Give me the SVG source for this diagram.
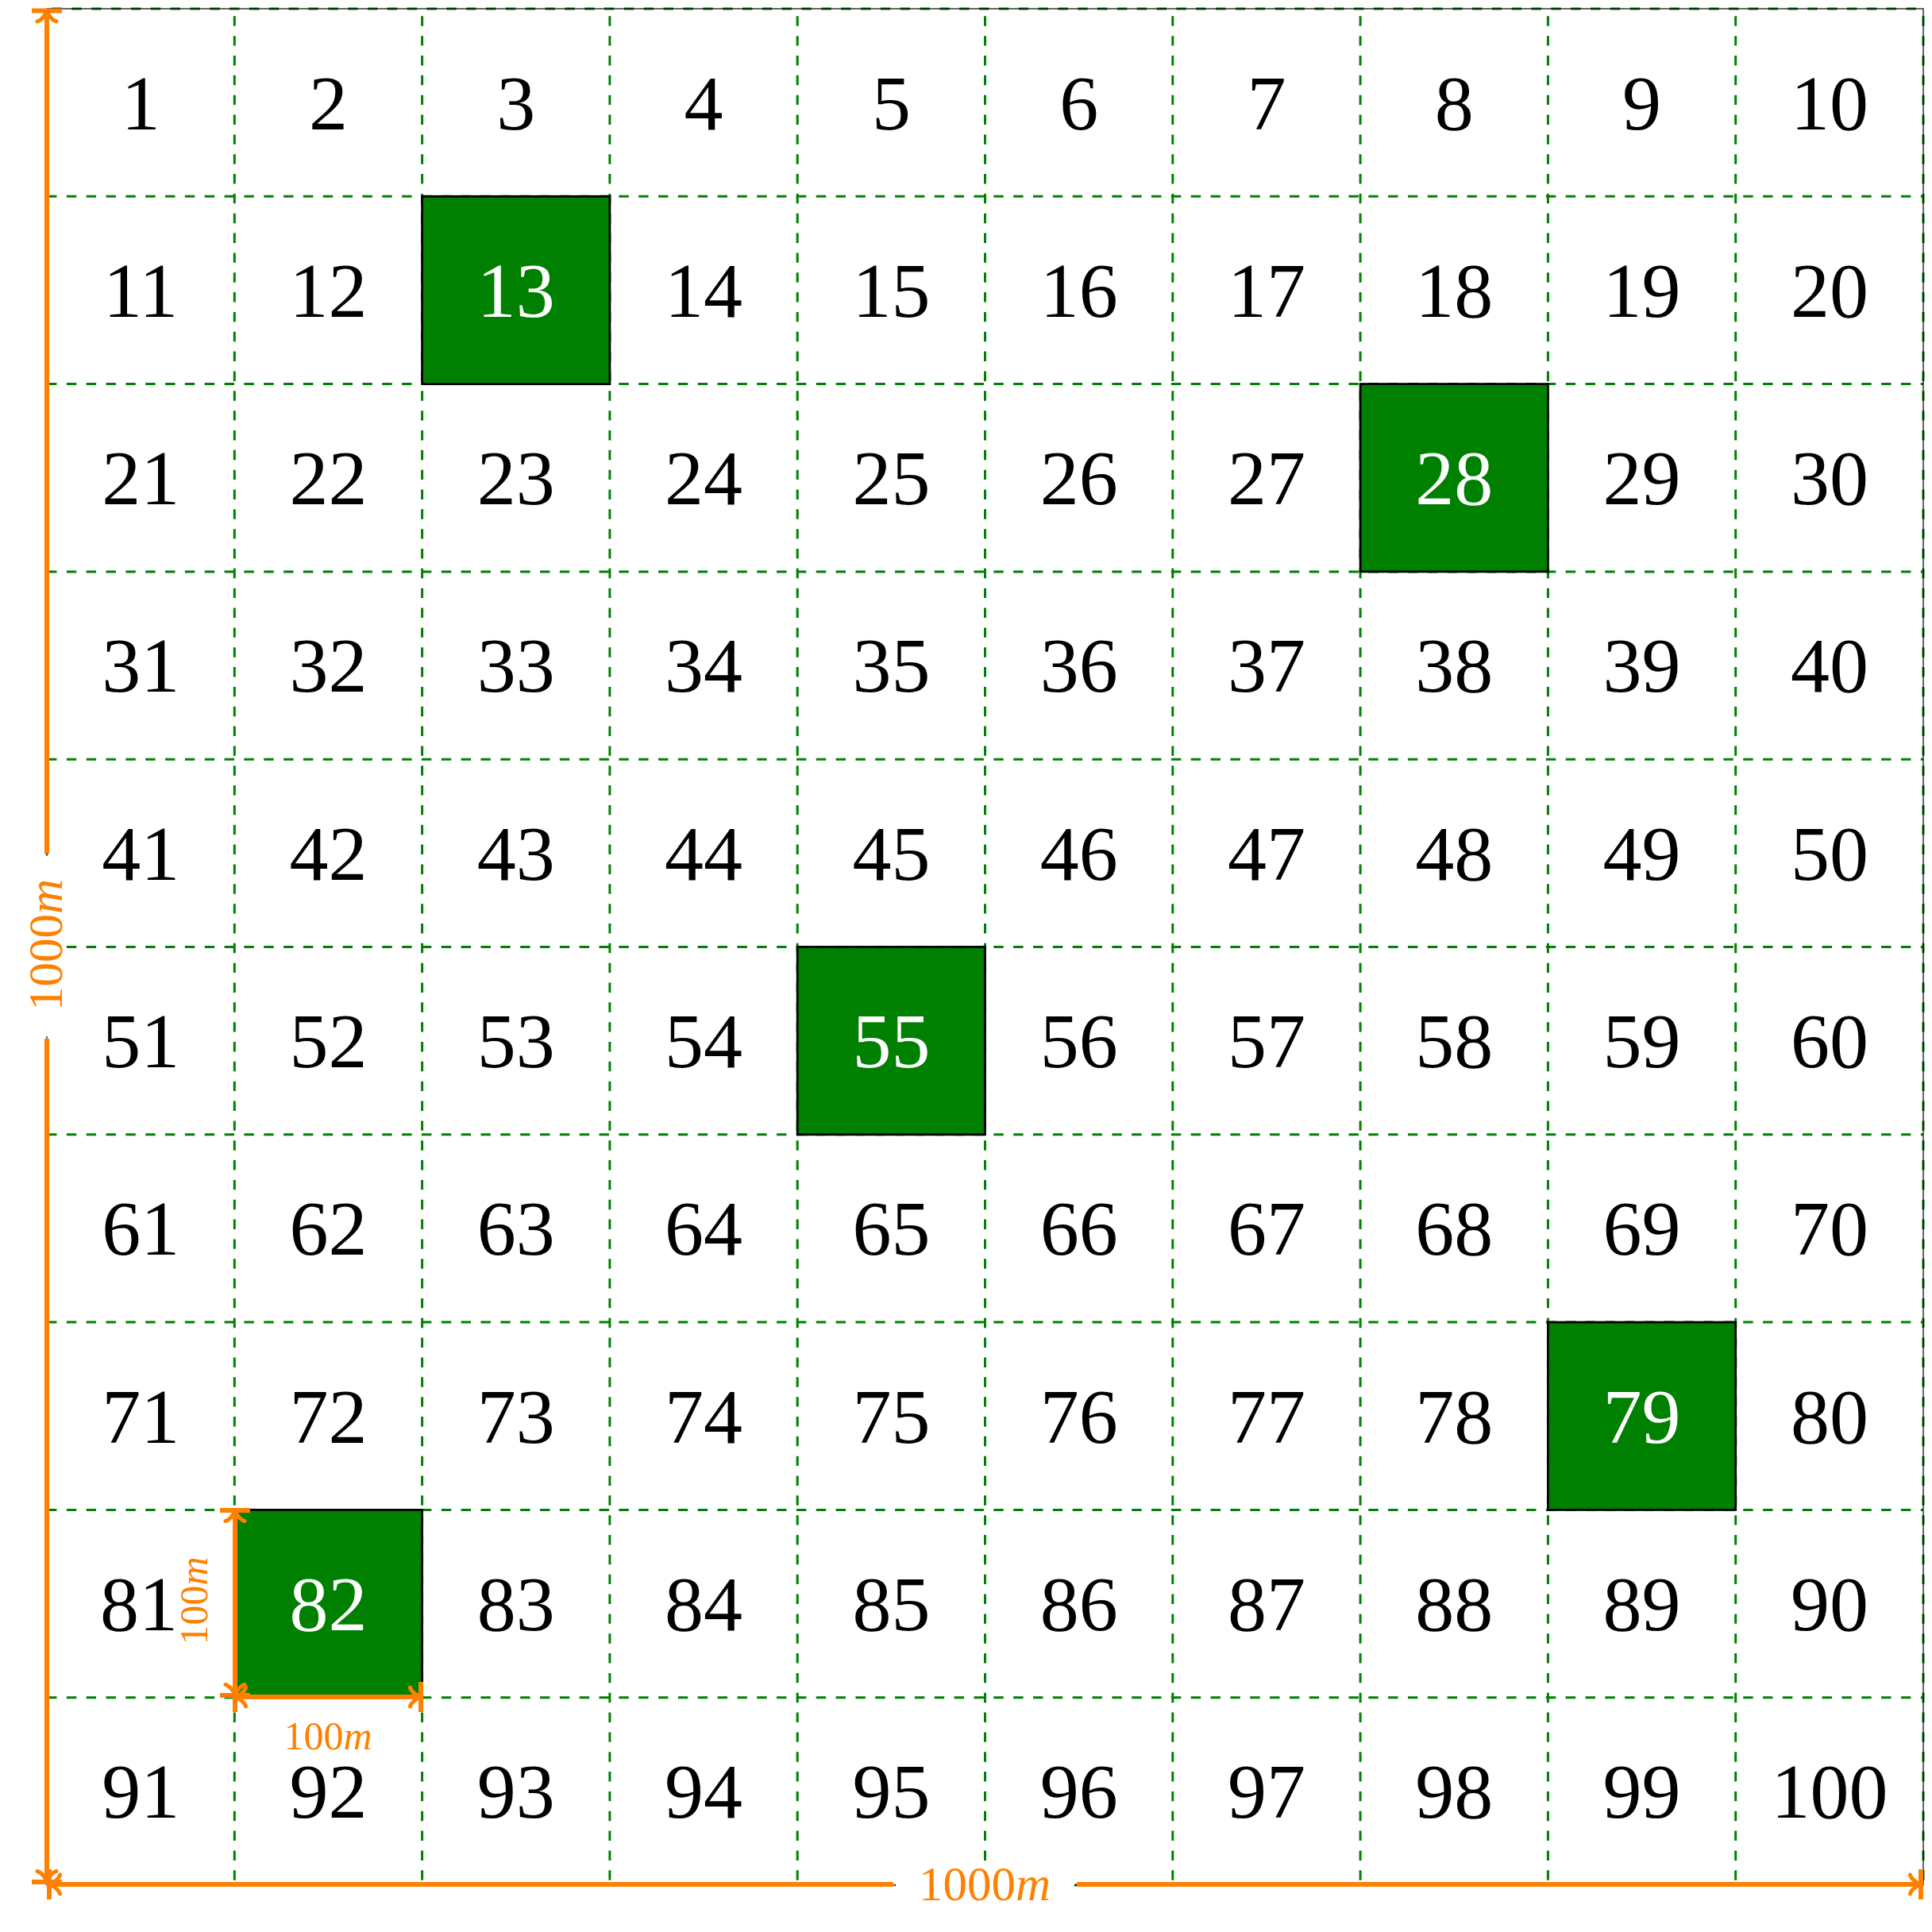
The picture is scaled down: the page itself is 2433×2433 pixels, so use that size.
<svg xmlns="http://www.w3.org/2000/svg" width="2433" height="2433" viewBox="0 0 2433 2433">
<style>
.gh{fill:none;stroke:#008000;stroke-width:3;stroke-dasharray:12.42 12.42}
.gv{fill:none;stroke:#008000;stroke-width:3;stroke-dasharray:12.42 12.42;stroke-dashoffset:15.5}
.cell{fill:#008000;stroke:#000;stroke-width:2.8}
.n{font-family:"Liberation Serif","Times New Roman",serif;font-size:98px;text-anchor:middle;fill:#000}
.w{fill:#fff}
.dim{fill:none;stroke:#FF8000;stroke-width:6}
.lbl{font-family:"Liberation Serif","Times New Roman",serif;text-anchor:middle;fill:#FF8000}
.it{font-style:italic}
</style>
<defs>
<marker id="tip" markerUnits="userSpaceOnUse" markerWidth="50" markerHeight="50" viewBox="-25 -25 50 50" refX="0" refY="0" orient="auto-start-reverse" overflow="visible">
<path d="M-13.5,-12 C-12.75,-7.5 -4.5,-0.75 0,0 C-4.5,0.75 -12.75,7.5 -13.5,12" fill="none" stroke="#FF8000" stroke-width="5" stroke-linecap="round"/>
<path d="M0,-19 V19" fill="none" stroke="#FF8000" stroke-width="6"/>
</marker>
</defs>
<rect width="2433" height="2433" fill="#fff"/>
<g id="grid">
<path class="gh" d="M59 11H2422" style="stroke-dashoffset:18.3"/>
<path class="gh" d="M59 247.3H2422"/>
<path class="gh" d="M59 483.6H2422"/>
<path class="gh" d="M59 719.9H2422"/>
<path class="gh" d="M59 956.2H2422"/>
<path class="gh" d="M59 1192.5H2422"/>
<path class="gh" d="M59 1428.8H2422"/>
<path class="gh" d="M59 1665.1H2422"/>
<path class="gh" d="M59 1901.4H2422"/>
<path class="gh" d="M59 2137.7H2422"/>
<path class="gh" d="M59 2374H2422"/>
<path class="gv" d="M59 11V2374"/>
<path class="gv" d="M295.3 11V2374"/>
<path class="gv" d="M531.6 11V2374"/>
<path class="gv" d="M767.9 11V2374"/>
<path class="gv" d="M1004.2 11V2374"/>
<path class="gv" d="M1240.5 11V2374"/>
<path class="gv" d="M1476.8 11V2374"/>
<path class="gv" d="M1713.1 11V2374"/>
<path class="gv" d="M1949.4 11V2374"/>
<path class="gv" d="M2185.7 11V2374"/>
<path class="gv" d="M2422 11V2374"/>
<rect x="59" y="11" width="2363" height="2363" fill="none" stroke="#000" stroke-width="1.2"/>
</g>
<g id="cells">
<g id="c1"><text class="n" x="177.2" y="162.5">1</text></g>
<g id="c2"><text class="n" x="413.5" y="162.5">2</text></g>
<g id="c3"><text class="n" x="649.8" y="162.5">3</text></g>
<g id="c4"><text class="n" x="886.1" y="162.5">4</text></g>
<g id="c5"><text class="n" x="1122.4" y="162.5">5</text></g>
<g id="c6"><text class="n" x="1358.7" y="162.5">6</text></g>
<g id="c7"><text class="n" x="1595" y="162.5">7</text></g>
<g id="c8"><text class="n" x="1831.3" y="162.5">8</text></g>
<g id="c9"><text class="n" x="2067.6" y="162.5">9</text></g>
<g id="c10"><text class="n" x="2303.9" y="162.5">10</text></g>
<g id="c11"><text class="n" x="177.2" y="398.8">11</text></g>
<g id="c12"><text class="n" x="413.5" y="398.8">12</text></g>
<g id="c13"><rect class="cell" x="531.6" y="247.3" width="236.3" height="236.3"/><text class="n w" x="649.8" y="398.8">13</text></g>
<g id="c14"><text class="n" x="886.1" y="398.8">14</text></g>
<g id="c15"><text class="n" x="1122.4" y="398.8">15</text></g>
<g id="c16"><text class="n" x="1358.7" y="398.8">16</text></g>
<g id="c17"><text class="n" x="1595" y="398.8">17</text></g>
<g id="c18"><text class="n" x="1831.3" y="398.8">18</text></g>
<g id="c19"><text class="n" x="2067.6" y="398.8">19</text></g>
<g id="c20"><text class="n" x="2303.9" y="398.8">20</text></g>
<g id="c21"><text class="n" x="177.2" y="635.1">21</text></g>
<g id="c22"><text class="n" x="413.5" y="635.1">22</text></g>
<g id="c23"><text class="n" x="649.8" y="635.1">23</text></g>
<g id="c24"><text class="n" x="886.1" y="635.1">24</text></g>
<g id="c25"><text class="n" x="1122.4" y="635.1">25</text></g>
<g id="c26"><text class="n" x="1358.7" y="635.1">26</text></g>
<g id="c27"><text class="n" x="1595" y="635.1">27</text></g>
<g id="c28"><rect class="cell" x="1713.1" y="483.6" width="236.3" height="236.3"/><text class="n w" x="1831.3" y="635.1">28</text></g>
<g id="c29"><text class="n" x="2067.6" y="635.1">29</text></g>
<g id="c30"><text class="n" x="2303.9" y="635.1">30</text></g>
<g id="c31"><text class="n" x="177.2" y="871.4">31</text></g>
<g id="c32"><text class="n" x="413.5" y="871.4">32</text></g>
<g id="c33"><text class="n" x="649.8" y="871.4">33</text></g>
<g id="c34"><text class="n" x="886.1" y="871.4">34</text></g>
<g id="c35"><text class="n" x="1122.4" y="871.4">35</text></g>
<g id="c36"><text class="n" x="1358.7" y="871.4">36</text></g>
<g id="c37"><text class="n" x="1595" y="871.4">37</text></g>
<g id="c38"><text class="n" x="1831.3" y="871.4">38</text></g>
<g id="c39"><text class="n" x="2067.6" y="871.4">39</text></g>
<g id="c40"><text class="n" x="2303.9" y="871.4">40</text></g>
<g id="c41"><text class="n" x="177.2" y="1107.7">41</text></g>
<g id="c42"><text class="n" x="413.5" y="1107.7">42</text></g>
<g id="c43"><text class="n" x="649.8" y="1107.7">43</text></g>
<g id="c44"><text class="n" x="886.1" y="1107.7">44</text></g>
<g id="c45"><text class="n" x="1122.4" y="1107.7">45</text></g>
<g id="c46"><text class="n" x="1358.7" y="1107.7">46</text></g>
<g id="c47"><text class="n" x="1595" y="1107.7">47</text></g>
<g id="c48"><text class="n" x="1831.3" y="1107.7">48</text></g>
<g id="c49"><text class="n" x="2067.6" y="1107.7">49</text></g>
<g id="c50"><text class="n" x="2303.9" y="1107.7">50</text></g>
<g id="c51"><text class="n" x="177.2" y="1344">51</text></g>
<g id="c52"><text class="n" x="413.5" y="1344">52</text></g>
<g id="c53"><text class="n" x="649.8" y="1344">53</text></g>
<g id="c54"><text class="n" x="886.1" y="1344">54</text></g>
<g id="c55"><rect class="cell" x="1004.2" y="1192.5" width="236.3" height="236.3"/><text class="n w" x="1122.4" y="1344">55</text></g>
<g id="c56"><text class="n" x="1358.7" y="1344">56</text></g>
<g id="c57"><text class="n" x="1595" y="1344">57</text></g>
<g id="c58"><text class="n" x="1831.3" y="1344">58</text></g>
<g id="c59"><text class="n" x="2067.6" y="1344">59</text></g>
<g id="c60"><text class="n" x="2303.9" y="1344">60</text></g>
<g id="c61"><text class="n" x="177.2" y="1580.3">61</text></g>
<g id="c62"><text class="n" x="413.5" y="1580.3">62</text></g>
<g id="c63"><text class="n" x="649.8" y="1580.3">63</text></g>
<g id="c64"><text class="n" x="886.1" y="1580.3">64</text></g>
<g id="c65"><text class="n" x="1122.4" y="1580.3">65</text></g>
<g id="c66"><text class="n" x="1358.7" y="1580.3">66</text></g>
<g id="c67"><text class="n" x="1595" y="1580.3">67</text></g>
<g id="c68"><text class="n" x="1831.3" y="1580.3">68</text></g>
<g id="c69"><text class="n" x="2067.6" y="1580.3">69</text></g>
<g id="c70"><text class="n" x="2303.9" y="1580.3">70</text></g>
<g id="c71"><text class="n" x="177.2" y="1816.6">71</text></g>
<g id="c72"><text class="n" x="413.5" y="1816.6">72</text></g>
<g id="c73"><text class="n" x="649.8" y="1816.6">73</text></g>
<g id="c74"><text class="n" x="886.1" y="1816.6">74</text></g>
<g id="c75"><text class="n" x="1122.4" y="1816.6">75</text></g>
<g id="c76"><text class="n" x="1358.7" y="1816.6">76</text></g>
<g id="c77"><text class="n" x="1595" y="1816.6">77</text></g>
<g id="c78"><text class="n" x="1831.3" y="1816.6">78</text></g>
<g id="c79"><rect class="cell" x="1949.4" y="1665.1" width="236.3" height="236.3"/><text class="n w" x="2067.6" y="1816.6">79</text></g>
<g id="c80"><text class="n" x="2303.9" y="1816.6">80</text></g>
<g id="c81"><text class="n" x="175" y="2052.9">81</text></g>
<g id="c82"><rect class="cell" x="295.3" y="1901.4" width="236.3" height="236.3"/><text class="n w" x="413.5" y="2052.9">82</text></g>
<g id="c83"><text class="n" x="649.8" y="2052.9">83</text></g>
<g id="c84"><text class="n" x="886.1" y="2052.9">84</text></g>
<g id="c85"><text class="n" x="1122.4" y="2052.9">85</text></g>
<g id="c86"><text class="n" x="1358.7" y="2052.9">86</text></g>
<g id="c87"><text class="n" x="1595" y="2052.9">87</text></g>
<g id="c88"><text class="n" x="1831.3" y="2052.9">88</text></g>
<g id="c89"><text class="n" x="2067.6" y="2052.9">89</text></g>
<g id="c90"><text class="n" x="2303.9" y="2052.9">90</text></g>
<g id="c91"><text class="n" x="177.2" y="2289.2">91</text></g>
<g id="c92"><text class="n" x="413.5" y="2289.2">92</text></g>
<g id="c93"><text class="n" x="649.8" y="2289.2">93</text></g>
<g id="c94"><text class="n" x="886.1" y="2289.2">94</text></g>
<g id="c95"><text class="n" x="1122.4" y="2289.2">95</text></g>
<g id="c96"><text class="n" x="1358.7" y="2289.2">96</text></g>
<g id="c97"><text class="n" x="1595" y="2289.2">97</text></g>
<g id="c98"><text class="n" x="1831.3" y="2289.2">98</text></g>
<g id="c99"><text class="n" x="2067.6" y="2289.2">99</text></g>
<g id="c100"><text class="n" x="2303.9" y="2289.2">100</text></g>
</g>
<g id="connectors">
<path class="dim" d="M59 1075V13.5" marker-end="url(#tip)"/>
<path class="dim" d="M59 1308V2370" marker-end="url(#tip)"/>
<path class="dim" d="M1125 2373H62" marker-end="url(#tip)"/>
<path class="dim" d="M1356 2373H2419" marker-end="url(#tip)"/>
<path class="dim" d="M296 1902V2135" marker-start="url(#tip)" marker-end="url(#tip)"/>
<path class="dim" d="M296 2137H530" marker-start="url(#tip)" marker-end="url(#tip)"/>
</g>
<g id="labels">
<rect x="36" y="1078" width="46" height="227" fill="#fff"/>
<text class="lbl" style="font-size:61px" transform="translate(78 1190) rotate(-90)">1000<tspan class="it">m</tspan></text>
<rect x="1128" y="2352" width="225" height="46" fill="#fff"/>
<text class="lbl" style="font-size:61px" x="1240" y="2393">1000<tspan class="it">m</tspan></text>
<text class="lbl" style="font-size:50px" transform="translate(261 2016) rotate(-90)">100<tspan class="it">m</tspan></text>
<text class="lbl" style="font-size:50px" x="413" y="2203">100<tspan class="it">m</tspan></text>
</g>
</svg>
